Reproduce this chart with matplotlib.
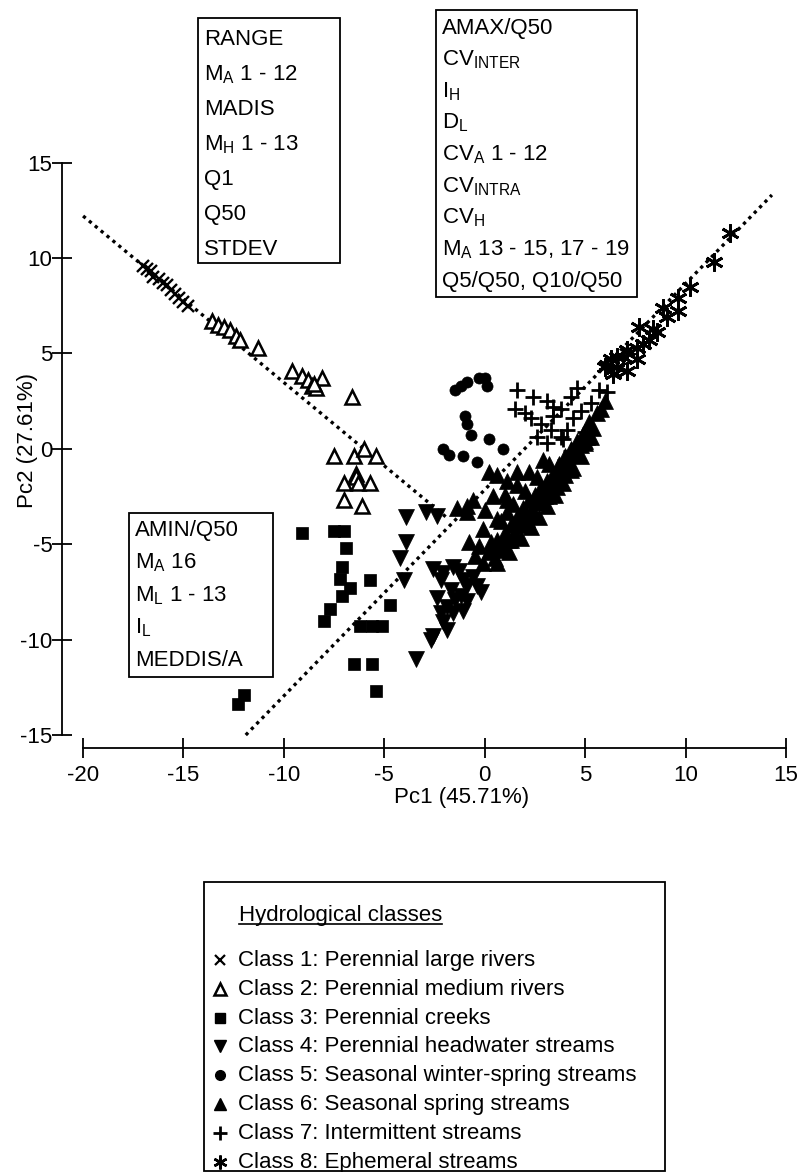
import matplotlib.pyplot as plt
from matplotlib.patches import Rectangle

plt.rcParams['font.family'] = ['Liberation Sans', 'DejaVu Sans']
plt.rcParams['mathtext.default'] = 'regular'
plt.rcParams['axes.unicode_minus'] = False

# ---------------- data (Pc1, Pc2 scores per class) ----------------
c1_x = [-17.0, -16.8, -16.6, -16.5, -16.2, -16.0, -15.8, -15.6, -15.4, -15.2, -15.0, -14.8]
c1_y = [9.6, 9.4, 9.3, 9.0, 8.9, 8.7, 8.6, 8.3, 8.1, 7.9, 7.7, 7.5]

c2_x = [-13.6, -13.3, -13.0, -12.7, -12.4, -12.2, -11.3, -9.6, -9.1, -8.8, -8.6, -8.4, -8.1,
        -8.5, -6.6, -7.5, -6.5, -6.0, -5.4, -6.4, -6.4, -7.0, -6.3, -5.7, -7.0, -6.1]
c2_y = [6.7, 6.5, 6.4, 6.2, 5.9, 5.7, 5.3, 4.1, 3.8, 3.6, 3.3, 3.2, 3.7,
        3.4, 2.7, -0.4, -0.4, 0.0, -0.4, -1.3, -1.5, -1.8, -1.8, -1.8, -2.7, -3.0]

c3_x = [-9.1, -7.5, -7.0, -6.9, -7.1, -7.2, -6.7, -7.1, -7.7, -8.0, -5.7, -4.7, -6.2, -5.6,
        -5.1, -6.5, -5.6, -5.4, -12.0, -12.3]
c3_y = [-4.4, -4.3, -4.3, -5.2, -6.2, -6.8, -7.3, -7.7, -8.4, -9.0, -6.9, -8.2, -9.3, -9.3,
        -9.3, -11.3, -11.3, -12.7, -12.9, -13.4]

c4_x = [-3.9, -2.9, -2.4, -3.9, -4.2, -4.0, -3.4, -2.6, -2.1, -1.6, -2.2, -1.7, -1.1, -0.6, -1.2,
        -1.9, -2.2, -1.6, -1.1, -2.1, -2.6, -1.9, -0.4, -0.9, -2.7, -0.2, -1.3, -0.9, -1.5, -2.4]
c4_y = [-3.6, -3.3, -3.5, -4.9, -5.7, -6.9, -11.0, -6.3, -6.5, -6.2, -6.9, -7.4, -6.9, -6.7, -7.7,
        -8.3, -8.6, -8.6, -8.5, -9.1, -9.8, -9.5, -7.2, -8.0, -10.0, -7.5, -6.4, -7.2, -7.9, -7.8]

c5_x = [-1.5, -1.2, -0.9, -0.3, 0.0, 0.1, -1.0, -0.9, -0.7, 0.2, -2.1, -1.8, -1.1, -0.4, 0.9]
c5_y = [3.1, 3.3, 3.5, 3.7, 3.7, 3.3, 1.7, 1.3, 0.7, 0.5, 0.0, -0.3, -0.4, -0.7, 0.0]

c6_x = [0.2, 0.6, 1.1, 1.6, -0.6, 0.4, -0.9, 0.0, 1.1, 0.6, -0.1, -0.8, -0.3, 0.3, 0.9, -0.5,
        -0.1, 1.3, 0.6, -1.4, -0.9,
        0.2, 0.5, 0.6, 0.9, 1.0, 1.2, 1.3, 1.5, 1.6, 1.8, 1.9, 2.1, 2.2, 2.4, 2.5, 2.7, 2.8,
        3.0, 3.1, 3.3, 3.4, 3.6, 3.7, 3.9, 4.0, 4.2, 4.3, 4.5, 4.6, 4.8, 4.9, 5.1, 5.2, 5.4,
        5.6, 5.8, 6.0, 1.4, 2.0, 2.6, 3.2, 0.8, 1.1,
        0.3, 0.7, 1.0, 1.4, 1.5, 1.9, 2.0, 2.3, 2.5, 2.8, 3.0, 3.2, 3.4, 3.6, 3.8, 4.0, 4.2,
        4.4, 4.6, 4.8, 5.0, 5.3, 2.2, 1.6, 1.0, 2.9,
        1.8, 2.3, 2.7, 3.1, 3.5, 3.9, 4.3, 4.6, 5.0, 0.6, 1.2]
c6_y = [-1.2, -1.4, -1.7, -1.2, -2.7, -2.5, -3.3, -3.2, -2.7, -3.7, -4.2, -4.9, -5.1, -4.9, -4.8,
        -5.6, -6.0, -4.8, -5.1, -3.1, -3.0,
        -5.4, -5.7, -4.8, -5.2, -4.4, -4.8, -4.0, -4.4, -3.6, -4.0, -3.1, -3.7, -2.7, -3.2, -2.4,
        -2.8, -2.0, -2.5, -1.7, -2.1, -1.3, -1.7, -0.8, -1.2, -0.4, -0.7, 0.0, -0.3, 0.4, 0.2, 0.8,
        0.6, 1.4, 1.1, 1.9, 2.1, 2.5, -2.9, -2.2, -1.5, -0.8, -3.8, -3.3,
        -5.2, -5.3, -4.6, -4.6, -3.9, -3.8, -3.3, -3.4, -2.8, -2.7, -2.2, -2.5, -1.8, -2.0, -1.3,
        -1.4, -0.8, -1.0, -0.2, -0.4, 0.3, 0.6, -1.2, -1.9, -2.4, -0.6,
        -4.7, -4.1, -3.6, -3.0, -2.4, -1.8, -1.1, -0.3, 0.4, -6.0, -5.4]

c7_x = [1.6, 2.4, 3.1, 3.4, 1.5, 2.0, 2.3, 2.8, 2.6, 3.4, 3.8, 4.3, 4.6, 4.1, 3.3, 3.8, 4.4,
        3.1, 5.7, 6.1, 4.8, 3.9, 4.0, 3.6, 4.3, 5.0, 5.3]
c7_y = [3.1, 2.7, 2.5, 2.2, 2.1, 1.9, 1.6, 1.3, 0.6, 1.7, 2.1, 2.7, 3.2, 1.0, 1.0, 0.6, 1.6,
        0.3, 3.1, 3.0, 2.0, 0.5, -0.6, -1.1, -0.1, 0.9, 2.4]

c8_x = [12.2, 11.4, 10.2, 9.6, 9.6, 8.9, 9.1, 8.4, 7.7, 8.2, 7.6, 7.1, 6.9, 7.6, 6.1, 6.6,
        6.4, 7.1, 8.6, 7.9, 6.6, 6.0, 6.3]
c8_y = [11.3, 9.8, 8.5, 7.9, 7.2, 7.4, 6.9, 6.3, 6.4, 5.7, 5.3, 5.2, 4.8, 4.7, 4.4, 4.3,
        3.9, 4.1, 6.1, 5.5, 4.8, 4.3, 4.7]

# the two dotted trend lines (end points)
line_left_x = [-20.0, -1.9]
line_left_y = [12.2, -3.6]
line_right_x = [-11.9, 14.3]
line_right_y = [-15.0, 13.3]

class_names = ['Class 1: Perennial large rivers',
               'Class 2: Perennial medium rivers',
               'Class 3: Perennial creeks',
               'Class 4: Perennial headwater streams',
               'Class 5: Seasonal winter-spring streams',
               'Class 6: Seasonal spring streams',
               'Class 7: Intermittent streams',
               'Class 8: Ephemeral streams']

range_rows = ['RANGE', 'M$_{A}$ 1 - 12', 'MADIS', 'M$_{H}$ 1 - 13', 'Q1', 'Q50', 'STDEV']
amax_rows = ['AMAX/Q50', 'CV$_{INTER}$', 'I$_{H}$', 'D$_{L}$', 'CV$_{A}$ 1 - 12',
             'CV$_{INTRA}$', 'CV$_{H}$', 'M$_{A}$ 13 - 15, 17 - 19', 'Q5/Q50, Q10/Q50']
amin_rows = ['AMIN/Q50', 'M$_{A}$ 16', 'M$_{L}$ 1 - 13', 'I$_{L}$', 'MEDDIS/A']

# marker styles per class
asterisk = (6, 2, 0)
styles = [dict(marker='x', ms=8, mew=1.7, mfc='black', mec='black'),
          dict(marker='^', ms=10, mew=1.8, mfc='white', mec='black'),
          dict(marker='s', ms=8, mew=0.5, mfc='black', mec='black'),
          dict(marker='v', ms=11, mew=0.5, mfc='black', mec='black'),
          dict(marker='o', ms=8, mew=0.5, mfc='black', mec='black'),
          dict(marker='^', ms=11, mew=0.5, mfc='black', mec='black'),
          dict(marker='+', ms=12, mew=2.0, mfc='black', mec='black'),
          dict(marker=asterisk, ms=13, mew=2.0, mfc='black', mec='black')]

W, H = 800, 1172
FS = 16

fig = plt.figure(figsize=(8, 11.72), dpi=100)

# main axes, placed in pixel terms
x0, x1, y0, y1 = 62, 792, 748, 153
ax = fig.add_axes([x0 / W, 1 - y0 / H, (x1 - x0) / W, (y0 - y1) / H])
ax.set_xlim(-21.05, 15.3)
ax.set_ylim(-15.68, 15.5)
for s in ['top', 'right']:
    ax.spines[s].set_visible(False)
ax.spines['left'].set_bounds(-15, 15)
ax.spines['bottom'].set_bounds(-20, 15)
for s in ['left', 'bottom']:
    ax.spines[s].set_linewidth(1.3)
ax.set_xticks(range(-20, 16, 5))
ax.set_yticks(range(-15, 16, 5))
ax.tick_params(direction='inout', length=14, width=1.3, labelsize=FS)
ax.tick_params(axis='x', pad=5)
ax.tick_params(axis='y', pad=0)

ax.plot(line_left_x, line_left_y, color='black', lw=2.4, ls=(0, (1, 1.3)))
ax.plot(line_right_x, line_right_y, color='black', lw=2.4, ls=(0, (1, 1.3)))

xs = [c1_x, c2_x, c3_x, c4_x, c5_x, c6_x, c7_x, c8_x]
ys = [c1_y, c2_y, c3_y, c4_y, c5_y, c6_y, c7_y, c8_y]
for cx, cy, st in zip(xs, ys, styles):
    ax.plot(cx, cy, ls='none', **st)

# overlay in pixel coordinates for labels, boxes and legend
ov = fig.add_axes([0, 0, 1, 1])
ov.set_xlim(0, W)
ov.set_ylim(H, 0)
ov.axis('off')

ov.text(462, 798, 'Pc1 (45.71%)', fontsize=FS, ha='center', va='center')
ov.text(28, 440, 'Pc2 (27.61%)', fontsize=FS, ha='center', va='center', rotation=90)


def text_box(left, top, right, bottom, rows, first, step):
    ov.add_patch(Rectangle((left, top), right - left, bottom - top, fc='white',
                           ec='black', lw=1.3))
    for i, r in enumerate(rows):
        ov.text(left + 6, first + i * step + 8, r, fontsize=FS, ha='left', va='baseline')


text_box(198, 18, 340, 263, range_rows, 37, 35)
text_box(436, 10, 637, 297, amax_rows, 26, 31.6)
text_box(129, 513, 273, 677, amin_rows, 528, 32.5)

# legend
ov.add_patch(Rectangle((204, 882), 461, 289, fc='white', ec='black', lw=1.3))
t = ov.text(239, 921, 'Hydrological classes', fontsize=FS, ha='left', va='baseline')
fig.canvas.draw()
bb = t.get_window_extent().transformed(ov.transData.inverted())
ov.plot([bb.x0, bb.x1], [924, 924], color='black', lw=1.2)

leg_styles = [dict(marker='x', ms=7, mew=1.6),
              dict(marker='^', ms=8, mew=1.8, mfc='white'),
              dict(marker='s', ms=7),
              dict(marker='v', ms=8),
              dict(marker='o', ms=7),
              dict(marker='^', ms=8),
              dict(marker='+', ms=10, mew=2.0),
              dict(marker=asterisk, ms=10, mew=1.8)]
for i, (name, st) in enumerate(zip(class_names, leg_styles)):
    yy = 958 + i * 28.8
    ov.plot([220], [yy + 2], ls='none', color='black', **st)
    ov.text(238, yy + 8, name, fontsize=FS, ha='left', va='baseline')

fig.savefig('out.png', dpi=100)
